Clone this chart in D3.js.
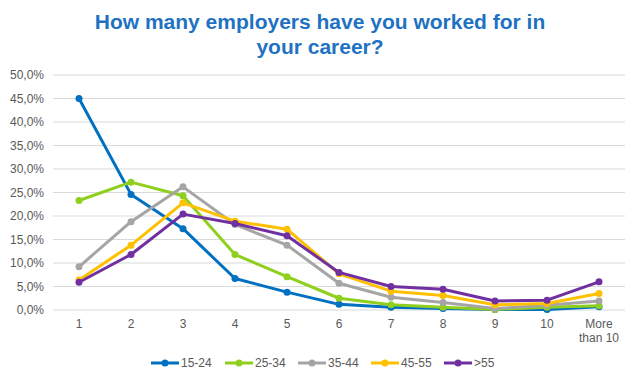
<!DOCTYPE html>
<html><head><meta charset="utf-8">
<script src="https://cdn.jsdelivr.net/npm/d3@7"></script>
<style>body{margin:0;background:#fff;} text{font-family:Arial,"Liberation Sans",sans-serif;}</style>
</head><body><svg id="c" width="641" height="382"></svg>
<script>
const categories = ["1","2","3","4","5","6","7","8","9","10","More than 10"];
const seriesNames = ["15-24","25-34","35-44","45-55",">55"];
const seriesColors = ["#0070C0","#8FCF1E","#A5A5A5","#FFC000","#7030A0"];
const s1524 = [45.0,24.6,17.3,6.7,3.8,1.2,0.6,0.3,0.1,0.1,0.7];
const s2534 = [23.3,27.2,24.3,11.8,7.1,2.5,1.1,0.6,0.1,0.6,0.9];
const s3544 = [9.2,18.8,26.2,18.2,13.8,5.7,2.7,1.6,0.3,1.0,1.9];
const s4555 = [6.4,13.8,22.8,18.9,17.2,7.7,4.0,3.1,1.1,1.4,3.5];
const s55 = [5.9,11.8,20.4,18.4,15.8,8.0,5.0,4.4,1.9,2.1,6.0];
const yTicks = [0,5,10,15,20,25,30,35,40,45,50];
const titleLines = ["How many employers have you worked for in","your career?"];

const allSeries = [s1524,s2534,s3544,s4555,s55];
const svg = d3.select("#c");
const x = d3.scaleBand().domain(categories).range([53,625]);
const y = d3.scaleLinear().domain([0,50]).range([310,75]);

svg.append("g").selectAll("line").data(yTicks).join("line")
  .attr("x1",53).attr("x2",625).attr("y1",d=>y(d)).attr("y2",d=>y(d))
  .attr("stroke","#D9D9D9").attr("stroke-width",1);

svg.append("g").selectAll("text").data(yTicks).join("text")
  .attr("x",44).attr("y",d=>y(d)+4).attr("text-anchor","end")
  .attr("font-size",12).attr("fill","#595959")
  .text(d=>d.toFixed(1).replace(".",",")+"%");

const xl = svg.append("g").selectAll("text").data(categories).join("text")
  .attr("x",d=>x(d)+x.bandwidth()/2).attr("y",328).attr("text-anchor","middle")
  .attr("font-size",12).attr("fill","#595959");
xl.each(function(d){
  const t=d3.select(this);
  if(d==="More than 10"){
    t.append("tspan").attr("x",x(d)+x.bandwidth()/2).attr("dy",0).text("More");
    t.append("tspan").attr("x",x(d)+x.bandwidth()/2).attr("dy",14).text("than 10");
  } else t.text(d);
});

const line = d3.line().x((d,i)=>x(categories[i])+x.bandwidth()/2).y(d=>y(d));
allSeries.forEach((s,k)=>{
  const g=svg.append("g");
  g.append("path").datum(s).attr("d",line).attr("fill","none")
   .attr("stroke",seriesColors[k]).attr("stroke-width",3).attr("stroke-linejoin","round");
  g.selectAll("circle").data(s).join("circle")
   .attr("cx",(d,i)=>x(categories[i])+x.bandwidth()/2).attr("cy",d=>y(d)).attr("r",3.5)
   .attr("fill",seriesColors[k]);
});

svg.append("g").selectAll("text").data(titleLines).join("text")
  .attr("x",320).attr("y",(d,i)=>29+i*25).attr("text-anchor","middle")
  .attr("font-size",21).attr("font-weight","bold").attr("fill","#1F72C2")
  .text(d=>d);

const legX=[151,225,298,371,444];
const lg=svg.append("g");
seriesNames.forEach((n,k)=>{
  lg.append("line").attr("x1",legX[k]).attr("x2",legX[k]+28).attr("y1",363).attr("y2",363)
    .attr("stroke",seriesColors[k]).attr("stroke-width",3);
  lg.append("circle").attr("cx",legX[k]+14).attr("cy",363).attr("r",3.5).attr("fill",seriesColors[k]);
  lg.append("text").attr("x",legX[k]+30).attr("y",367).attr("font-size",12).attr("fill","#595959").text(n);
});
</script></body></html>
